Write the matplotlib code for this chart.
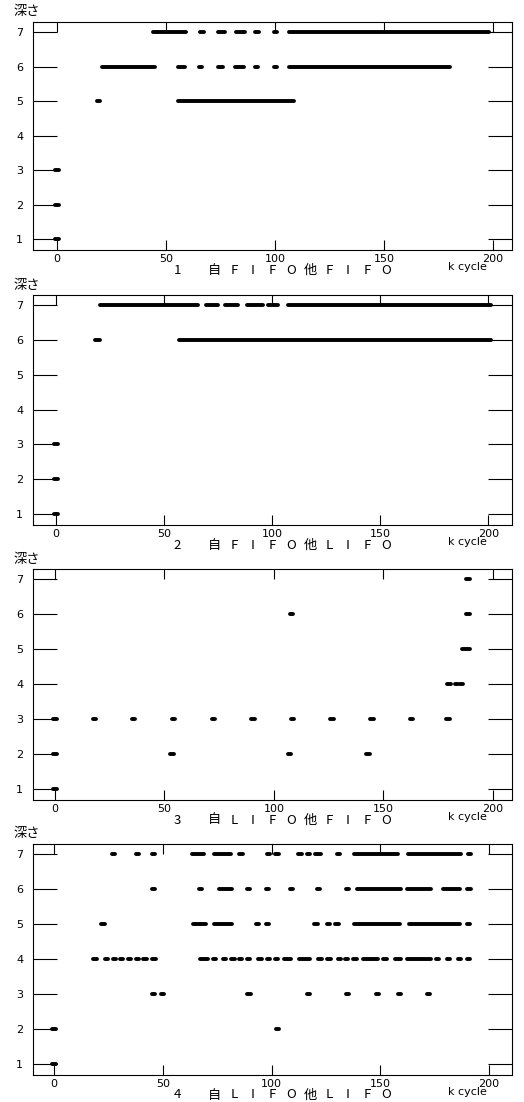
import numpy as np
import matplotlib
matplotlib.use("Agg")
import matplotlib.pyplot as plt

plt.rcParams['font.family'] = ['Noto Sans CJK JP', 'DejaVu Sans']

# --- dati: profondita' e intervalli (k cycle) ---
# start == end -> punto singolo

# 1  自FIFO他FIFO
p1_depth = [7] * 7 + [6] * 8 + [5] * 2 + [3, 2, 1]
p1_start = [43.4, 66.5, 73.2, 81.2, 91.7, 100.2, 105.6,
            19.8, 54.6, 65.9, 72.9, 80.8, 91.4, 100.2, 105.4,
            17.8, 54.6,
            0, 0, 0]
p1_end = [59.8, 66.5, 77.9, 87.0, 91.7, 100.2, 199.2,
          45.7, 59.4, 65.9, 77.0, 86.7, 91.4, 100.2, 180.9,
          20.6, 109.6,
          0, 0, 0]

# 2  自FIFO他LIFO
p2_depth = [7] * 6 + [6] * 2 + [3, 2, 1]
p2_start = [19.3, 68.7, 77.2, 87.7, 97.3, 106.3,
            17.3, 56.1,
            0, 0, 0]
p2_end = [66.4, 75.7, 84.9, 96.5, 103.5, 202.3,
          21.3, 202.3,
          0, 0, 0]

# 3  自LIFO他FIFO
p3_depth = [7] + [6] * 2 + [5] * 2 + [4] * 3 + [3] * 11 + [2] * 4 + [1]
p3_start = [188.6,
            108.0, 188.6,
            186.8, 188.8,
            180.0, 183.3, 185.8,
            0, 18.0, 36.0, 54.0, 72.4, 90.5, 108.4, 126.5, 144.8, 162.7, 179.5,
            0, 53.5, 107.0, 143.0,
            0]
p3_end = list(p3_start)

# 4  自LIFO他LIFO
p4_depth = [7] * 15 + [6] * 12 + [5] * 11 + [4] * 32 + [3] * 8 + [2] * 2 + [1]
p4_start = [27.3, 38.3, 45.7, 62.6, 72.8, 86.0, 97.3, 101.0, 111.6, 115.4, 119.2, 130.7, 137.3, 161.8, 189.7,
            45.7, 67.3, 75.1, 89.3, 98.3, 109.2, 121.5, 134.9, 138.4, 161.4, 177.8, 189.0,
            21.5, 63.0, 72.8, 93.5, 98.3, 118.5, 124.6, 128.4, 136.9, 162.4, 189.0,
            17.3, 22.7, 26.5, 29.6, 33.4, 37.2, 40.3, 44.4, 66.3, 72.5, 77.1, 80.9, 84.3, 88.1, 93.2, 97.0,
            100.8, 104.7, 111.6, 120.8, 124.6, 130.0, 133.0, 136.9, 141.0, 150.7, 156.0, 161.4, 175.2, 179.8,
            184.7, 189.3,
            45.8, 50.0, 89.6, 117.0, 134.8, 148.6, 158.8, 172.3,
            0, 102.6,
            0]
p4_end = [27.3, 38.3, 45.7, 69.9, 82.4, 86.0, 100.0, 104.0, 114.6, 118.5, 123.8, 130.7, 159.1, 188.2, 192.5,
          45.7, 67.3, 82.8, 89.3, 98.3, 109.2, 121.5, 134.9, 160.6, 174.4, 187.4, 192.5,
          23.5, 70.7, 82.8, 93.5, 98.3, 122.3, 127.6, 131.8, 159.9, 187.4, 192.0,
          20.4, 25.7, 28.8, 32.6, 36.2, 39.5, 43.4, 47.5, 71.7, 75.3, 79.7, 83.7, 87.0, 90.9, 96.2, 100.1,
          103.9, 110.0, 118.5, 123.8, 128.4, 132.3, 136.1, 139.9, 149.9, 153.7, 160.6, 174.4, 177.8, 182.8,
          188.2, 192.0,
          45.8, 50.0, 89.6, 117.0, 134.8, 148.6, 158.8, 172.3,
          0, 102.6,
          0]

CAPTION_NUM = ['1', '2', '3', '4']
CAPTION_BODY = ['自FIFO他FIFO', '自FIFO他LIFO', '自LIFO他FIFO', '自LIFO他LIFO']
X_TICKS = [0, 50, 100, 150, 200]
Y_TICKS = [1, 2, 3, 4, 5, 6, 7]

panels = [(p1_depth, p1_start, p1_end),
          (p2_depth, p2_start, p2_end),
          (p3_depth, p3_start, p3_end),
          (p4_depth, p4_start, p4_end)]

# --- layout (pixel della figura) ---
W, H = 524, 1102
box_top = [22, 295, 569, 844]
box_bot = [250, 525, 800, 1075]
box_left, box_right = 33, 512
xlims = [(-11.0, 208.7), (-10.7, 211.0), (-10.0, 208.7), (-9.7, 210.6)]
ylim = (0.69, 7.29)
CAP = 0.85   # meta' larghezza del cappuccio tondo, in k cycle
DOT = 0.75   # semi-lunghezza dei punti singoli

fig = plt.figure(figsize=(W / 100, H / 100), dpi=100)

for i, (dep, st, en) in enumerate(panels):
    ax = fig.add_axes([box_left / W, 1 - box_bot[i] / H,
                       (box_right - box_left) / W, (box_bot[i] - box_top[i]) / H])
    s = np.asarray(st, float)
    e = np.asarray(en, float)
    # i bordi letti sono esterni: si toglie il cappuccio tondo
    mid = (s + e) / 2
    s2 = np.minimum(s + CAP, mid - DOT)
    e2 = np.maximum(e - CAP, mid + DOT)
    lc = ax.hlines(dep, s2, e2, colors='black', linewidth=2.8)
    lc.set_capstyle('round')

    ax.set_xlim(*xlims[i])
    ax.set_ylim(*ylim)
    ax.set_xticks(X_TICKS)
    ax.set_yticks(Y_TICKS)
    ax.tick_params(axis='x', direction='in', length=7, width=0.8, top=True,
                   labelsize=8, pad=3)
    ax.tick_params(axis='y', direction='in', length=17.5, width=0.8, right=True,
                   labelsize=8, pad=7)
    for lab in ax.get_xticklabels() + ax.get_yticklabels():
        lab.set_family('DejaVu Sans')
    for sp in ax.spines.values():
        sp.set_linewidth(0.8)

    fig.text(13 / W, 1 - (box_top[i] - 10) / H, '深さ', fontsize=9.5,
             ha='left', va='center')
    cap_y = 1 - (box_bot[i] + 20) / H
    fig.text(177 / W, cap_y, CAPTION_NUM[i], fontsize=9.5, ha='center', va='center')
    for j, ch in enumerate(CAPTION_BODY[i]):
        fig.text((215 + j * 19) / W, cap_y, ch, fontsize=9.5, ha='center', va='center')
    fig.text(448 / W, 1 - (box_bot[i] + 17) / H, 'k cycle', fontsize=8,
             family='DejaVu Sans', ha='left', va='center')

fig.savefig('out.png', dpi=100)
